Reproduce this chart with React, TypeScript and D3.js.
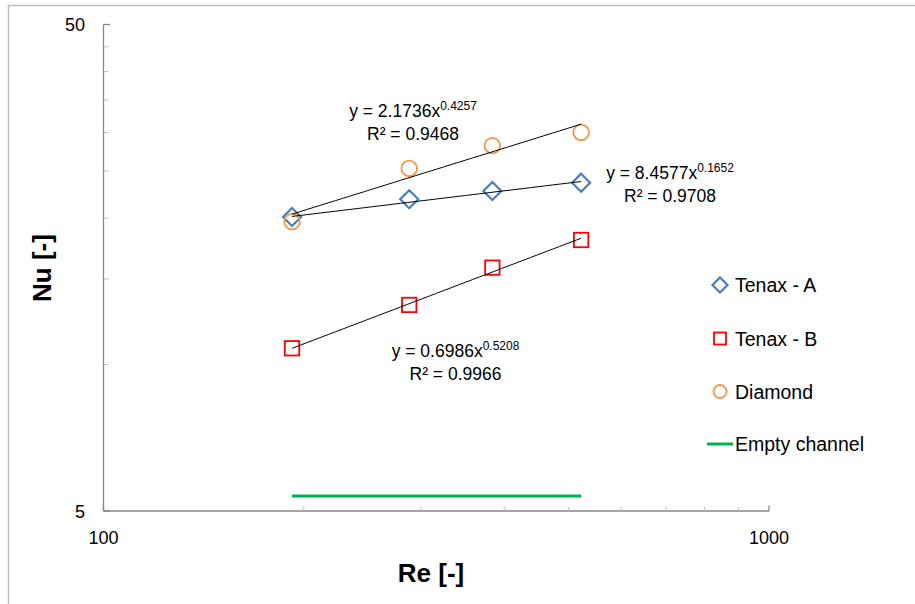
import React from "react";
import * as d3 from "d3";

// Reynolds numbers of the four flow rates
const reValues = [192, 288, 384, 522];

// Nusselt numbers per packing
const tenaxA = [20.1, 21.86, 22.74, 23.65];
const tenaxB = [10.8, 13.26, 15.82, 18.03];
const diamond = [19.66, 25.3, 28.18, 30.0];
const emptyChannel = [5.37, 5.37, 5.37, 5.37];

// Power-law fits y = a·x^b with their R²
const fitCoef = [8.4577, 0.6986, 2.1736];
const fitExp = [0.1652, 0.5208, 0.4257];
const fitR2 = ["0.9708", "0.9966", "0.9468"];
const fitCoefText = ["8.4577", "0.6986", "2.1736"];
const fitExpText = ["0.1652", "0.5208", "0.4257"];

const seriesNames = ["Tenax - A", "Tenax - B", "Diamond", "Empty channel"];

const xTicks = [100, 1000];
const xMinorTicks = [200, 300, 400, 500, 600, 700, 800, 900];
const yTicks = [5, 50];
const yMinorTicks = [10, 15, 20, 25, 30, 35, 40, 45];

const W = 915;
const H = 604;
const FONT = "'Liberation Sans', Arial, sans-serif";

const BLUE = "#4a7ebb";
const RED = "#ff0000";
const ORANGE = "#f79646";
const GREEN = "#00b050";
const AXIS = "#868686";

function Marker({ kind, x, y, s }: { kind: number; x: number; y: number; s: number }) {
  if (kind === 0) {
    const h = s * 0.6;
    return (
      <path
        d={`M${x},${y - h}L${x + h},${y}L${x},${y + h}L${x - h},${y}Z`}
        fill="none"
        stroke={BLUE}
        strokeWidth={2.2}
      />
    );
  }
  if (kind === 1) {
    const h = s * 0.48;
    return <rect x={x - h} y={y - h} width={2 * h} height={2 * h} fill="none" stroke={RED} strokeWidth={1.8} />;
  }
  return <circle cx={x} cy={y} r={s * 0.52} fill="none" stroke={ORANGE} strokeWidth={1.8} />;
}

export default function App() {
  const x = d3.scaleLog().domain([100, 1000]).range([103.5, 769]);
  const y = d3.scaleLog().domain([5, 50]).range([511, 24.5]);

  const markerSeries = [tenaxA, tenaxB, diamond];

  const fitLine = (k: number) => {
    const pts = d3.range(0, 41).map((i) => {
      const lo = Math.log(reValues[0]);
      const hi = Math.log(reValues[reValues.length - 1]);
      const re = Math.exp(lo + ((hi - lo) * i) / 40);
      return [re, fitCoef[k] * Math.pow(re, fitExp[k])] as [number, number];
    });
    return d3
      .line<[number, number]>()
      .x((d) => x(d[0]))
      .y((d) => y(d[1]))(pts) as string;
  };

  const emptyPath = d3
    .line<number>()
    .x((_, i) => x(reValues[i]))
    .y((d) => y(d))(emptyChannel) as string;

  // label anchors for the fit equations: [centerX, firstBaseline]
  const eqPos: [number, number][] = [
    [670, 179],
    [455.5, 356.5],
    [413, 116.5],
  ];

  const legendY = [285, 338.5, 391.5, 444];

  return (
    <svg
      width={W}
      height={H}
      style={{ position: "absolute", left: 0, top: 0, background: "#fff" }}
      fontFamily={FONT}
    >
      <rect x={8.5} y={5.5} width={910} height={604} fill="#fff" stroke="#bfbfbf" strokeWidth={1.5} />

      {/* axes */}
      <line x1={x(100)} x2={x(1000)} y1={y(5)} y2={y(5)} stroke={AXIS} strokeWidth={1.3} />
      <line x1={x(100)} x2={x(100)} y1={y(5)} y2={y(50)} stroke={AXIS} strokeWidth={1.3} />
      {xMinorTicks.map((t) => (
        <line key={`xm${t}`} x1={x(t)} x2={x(t)} y1={y(5)} y2={y(5) - 4} stroke="#bbbbbb" strokeWidth={1} />
      ))}
      {xTicks.map((t) => (
        <line key={`xt${t}`} x1={x(t)} x2={x(t)} y1={y(5)} y2={y(5) - 5.5} stroke={AXIS} strokeWidth={1.3} />
      ))}
      {yMinorTicks.map((t) => (
        <line key={`ym${t}`} x1={x(100)} x2={x(100) + 5} y1={y(t)} y2={y(t)} stroke="#bbbbbb" strokeWidth={1} />
      ))}
      {yTicks.map((t) => (
        <line key={`yt${t}`} x1={x(100)} x2={x(100) + 6.5} y1={y(t)} y2={y(t)} stroke={AXIS} strokeWidth={1.3} />
      ))}

      {/* tick labels */}
      {yTicks.map((t) => (
        <text key={`yl${t}`} x={85} y={y(t) + 6.5} textAnchor="end" fontSize={18} fill="#000">
          {t}
        </text>
      ))}
      {xTicks.map((t) => (
        <text key={`xl${t}`} x={x(t)} y={544} textAnchor="middle" fontSize={18} fill="#000">
          {t}
        </text>
      ))}

      {/* axis titles */}
      <text x={431} y={582} textAnchor="middle" fontSize={26} fontWeight="bold" fill="#000">
        Re [-]
      </text>
      <text
        transform={`translate(51,268) rotate(-90)`}
        textAnchor="middle"
        fontSize={26}
        fontWeight="bold"
        fill="#000"
      >
        Nu [-]
      </text>

      {/* empty channel */}
      <path d={emptyPath} fill="none" stroke={GREEN} strokeWidth={3} />

      {/* data markers */}
      {markerSeries.map((vals, k) =>
        vals.map((v, i) => <Marker key={`m${k}-${i}`} kind={k} x={x(reValues[i])} y={y(v)} s={15} />)
      )}

      {/* power-law trendlines */}
      {fitCoef.map((_, k) => (
        <path key={`f${k}`} d={fitLine(k)} fill="none" stroke="#000" strokeWidth={1} />
      ))}

      {/* fit equations */}
      {eqPos.map(([cx, by], k) => (
        <g key={`eq${k}`} fontSize={17.5} fill="#000">
          <text x={cx} y={by} textAnchor="middle">
            {`y = ${fitCoefText[k]}x`}
            <tspan fontSize={12} dy={-6.7}>
              {fitExpText[k]}
            </tspan>
          </text>
          <text x={cx} y={by + 23} textAnchor="middle">
            {`R² = ${fitR2[k]}`}
          </text>
        </g>
      ))}

      {/* legend */}
      {seriesNames.map((name, k) => (
        <g key={`lg${k}`}>
          {k < 3 ? (
            <Marker kind={k} x={720} y={legendY[k]} s={12.5} />
          ) : (
            <line x1={707} x2={733} y1={legendY[k]} y2={legendY[k]} stroke={GREEN} strokeWidth={3} />
          )}
          <text x={735} y={legendY[k] + 7} fontSize={19.5} fill="#000">
            {name}
          </text>
        </g>
      ))}
    </svg>
  );
}
